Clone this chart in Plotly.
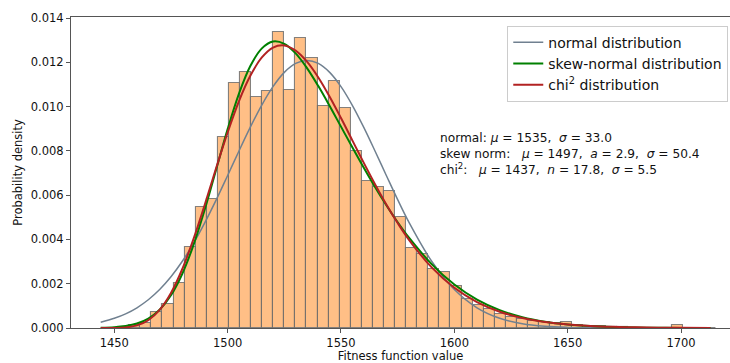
import plotly.graph_objects as go

# ---------------- data ----------------
bin_start = 1446.83          # left edge of first histogram bin
bin_width = 4.886            # histogram bin width
hist_density = [
    0.0, 0.00004, 0.00013, 0.00022, 0.00071, 0.00107, 0.00205, 0.00364,
    0.00548, 0.00583, 0.00864, 0.01105, 0.01157, 0.01043, 0.01071, 0.01338,
    0.01077, 0.01308, 0.01220, 0.01003, 0.01117, 0.00994, 0.00798, 0.00662,
    0.00635, 0.00617, 0.00500, 0.00360, 0.00334, 0.00265, 0.00255, 0.00192,
    0.00130, 0.00106, 0.00086, 0.00063, 0.00050, 0.00040, 0.00033, 0.00025,
    0.00021, 0.00025, 0.00012, 0.00010, 0.00008, 0.00006, 0.00005, 0.00002,
    0.00002, 0.0, 0.0, 0.00012, 0.0, 0.0, 0.00002,
]

curve_x = [1444, 1450, 1455, 1460, 1465, 1470, 1475, 1480, 1485, 1490, 1495,
           1500, 1505, 1510, 1515, 1520, 1525, 1530, 1535, 1540, 1545, 1550,
           1555, 1560, 1565, 1570, 1575, 1580, 1590, 1600, 1610, 1620, 1630,
           1640, 1650, 1660, 1670, 1680, 1690, 1700, 1713]

normal_pdf = [0.000257, 0.000439, 0.000640, 0.000914, 0.001275, 0.001738,
              0.002315, 0.003015, 0.003837, 0.004771, 0.005799, 0.006890,
              0.007998, 0.009074, 0.010061, 0.010904, 0.011548, 0.011952,
              0.012090, 0.011952, 0.011548, 0.010904, 0.010061, 0.009074,
              0.007998, 0.006890, 0.005799, 0.004771, 0.003015, 0.001738,
              0.000914, 0.000439, 0.000192, 0.000077, 0.000028, 0.0000093,
              0.0000028, 0.0000008, 0.0, 0.0, 0.0]

skewnorm_pdf = [0.0000104, 0.0000351, 0.0000876, 0.000201, 0.000425,
                0.000825, 0.001479, 0.002452, 0.003769, 0.005385, 0.007185,
                0.008984, 0.010588, 0.011834, 0.012622, 0.012942, 0.012840,
                0.012408, 0.011743, 0.010928, 0.010030, 0.009097, 0.008161,
                0.007246, 0.006370, 0.005546, 0.004779, 0.004079, 0.002886,
                0.001962, 0.001282, 0.000806, 0.000487, 0.000283, 0.000158,
                0.000085, 0.000044, 0.000022, 0.000010, 0.0000046, 0.0000013]

chi2_pdf = [0.0, 0.0000032, 0.0000266, 0.000117, 0.000352, 0.000817,
            0.001581, 0.002666, 0.004036, 0.005600, 0.007249, 0.008835,
            0.010253, 0.011394, 0.012212, 0.012670, 0.012766, 0.012533,
            0.012034, 0.011320, 0.010449, 0.009486, 0.008477, 0.007469,
            0.006497, 0.005582, 0.004742, 0.003985, 0.002737, 0.001819,
            0.001172, 0.000736, 0.000452, 0.000271, 0.000160, 0.0000925,
            0.0000527, 0.0000296, 0.0000164, 0.0000090, 0.0000040]

x_ticks = [1450, 1500, 1550, 1600, 1650, 1700]
y_ticks = [0.000, 0.002, 0.004, 0.006, 0.008, 0.010, 0.012, 0.014]

series_names = ["normal distribution", "skew-normal distribution",
                "chi<sup>2</sup> distribution"]
stats_lines = [
    "normal: <i>μ</i> = 1535,\u00a0 <i>σ</i> = 33.0",
    "skew norm:\u00a0\u00a0 <i>μ</i> = 1497,\u00a0 <i>a</i> = 2.9,\u00a0 <i>σ</i> = 50.4",
    "chi<sup>2</sup>:\u00a0\u00a0 <i>μ</i> = 1437,\u00a0 <i>n</i> = 17.8,\u00a0 <i>σ</i> = 5.5",
]

# ---------------- figure ----------------
bin_centers = [bin_start + bin_width * (i + 0.5) for i in range(len(hist_density))]

FONT = "DejaVu Sans"
fig = go.Figure()

fig.add_trace(go.Bar(
    x=bin_centers, y=hist_density, width=bin_width,
    marker=dict(color="rgba(255,127,14,0.5)",
                line=dict(color="rgba(110,110,110,0.85)", width=1.1)),
    showlegend=False, hoverinfo="skip",
))

fig.add_trace(go.Scatter(x=curve_x, y=normal_pdf, mode="lines",
                         line=dict(color="slategray", width=1.5, shape="spline"),
                         name=series_names[0]))
fig.add_trace(go.Scatter(x=curve_x, y=skewnorm_pdf, mode="lines",
                         line=dict(color="green", width=2.0, shape="spline"),
                         name=series_names[1]))
fig.add_trace(go.Scatter(x=curve_x, y=chi2_pdf, mode="lines",
                         line=dict(color="#b22222", width=2.0, shape="spline"),
                         name=series_names[2]))

fig.add_annotation(
    x=1592.6, y=0.00788, xref="x", yref="y",
    text="<br>".join(stats_lines), showarrow=False,
    xanchor="left", yanchor="middle", align="left",
    font=dict(family=FONT, size=12.2, color="#111"),
)

fig.update_layout(
    width=730, height=363,
    margin=dict(l=71, r=0, t=17, b=35),
    plot_bgcolor="white", paper_bgcolor="white",
    bargap=0,
    font=dict(family=FONT, size=11.5, color="#111"),
    legend=dict(x=0.662, y=0.972, xanchor="left", yanchor="top",
                bgcolor="rgba(255,255,255,0.85)", bordercolor="#cccccc",
                borderwidth=1, font=dict(family=FONT, size=14, color="#111")),
)

fig.update_xaxes(
    range=[1430.9, 1721.6], tickvals=x_ticks,
    ticktext=[str(v) for v in x_ticks],
    showgrid=False, zeroline=False,
    showline=True, linecolor="#555", linewidth=1, mirror=True,
    ticks="outside", ticklen=4, tickwidth=1, tickcolor="#555",
    tickfont=dict(family=FONT, size=11.5, color="#111"),
    title=dict(text="Fitness function value", standoff=4,
               font=dict(family=FONT, size=11.5, color="#111")),
)
fig.update_yaxes(
    range=[0, 0.01405], tickvals=y_ticks,
    ticktext=[f"{v:.3f}" for v in y_ticks],
    showgrid=False, zeroline=False,
    showline=True, linecolor="#555", linewidth=1,
    ticks="outside", ticklen=4, tickwidth=1, tickcolor="#555",
    tickfont=dict(family=FONT, size=11.5, color="#111"),
    title=dict(text="Probability density", standoff=5,
               font=dict(family=FONT, size=11.5, color="#111")),
)

fig.write_html("out.html")
